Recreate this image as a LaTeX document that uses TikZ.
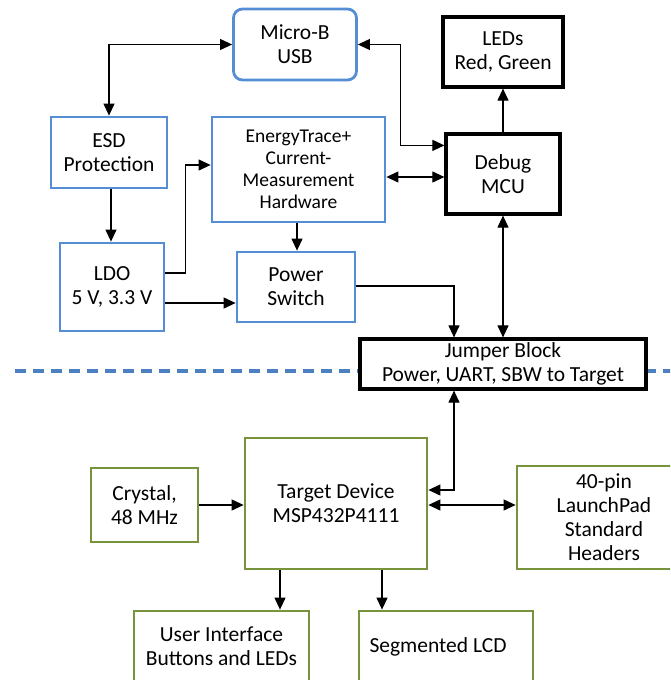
\documentclass[tikz,border=0pt]{standalone}
\usepackage{fontspec}
\setmainfont{Carlito}
\usepackage{tikz}
\usetikzlibrary{arrows.meta,calc}
\definecolor{boxblue}{RGB}{85,142,213}
\definecolor{boxgreen}{RGB}{119,147,60}
\tikzstyle{bluebox}=[draw=boxblue,line width=2.8pt,fill=white,align=center,inner sep=0pt,font=\fontsize{21.5}{24}\selectfont]
\tikzstyle{greenbox}=[draw=boxgreen,line width=2.8pt,fill=white,align=center,inner sep=0pt,font=\fontsize{21.5}{24}\selectfont]
\tikzstyle{blackbox}=[draw=black,line width=3.2pt,fill=white,align=center,inner sep=0pt,font=\fontsize{21.5}{24}\selectfont]
\tikzstyle{edge} = [draw,line width=1.1pt,->]
\tikzstyle{twoway} = [draw,line width=1.1pt,<->]
\tikzstyle{divider} = [draw=boxblue!90!black,line width=3.4pt,dash pattern=on 11pt off 7pt]

\begin{document}
\begin{tikzpicture}[x=1pt,y=-1pt,>={Triangle[length=12pt,width=11pt]}]
\useasboundingbox (0,0) rectangle (670,680);
\clip (0,0) rectangle (670,680);

% board divider
\coordinate (divl) at (15,371);
\coordinate (divr) at (672,371);
\path[divider] (divl) -- (divr);

% emulator side
\node[bluebox,rounded corners=9pt,minimum width=123pt,minimum height=71pt] (usb) at (295,44.5) {Micro-B\\USB};
\node[blackbox,minimum width=120pt,minimum height=70pt] (leds) at (503,52) {LEDs\\Red, Green};
\node[bluebox,minimum width=116pt,minimum height=71pt] (esd) at (109,152.5) {ESD\\Protection};
\node[bluebox,minimum width=173pt,minimum height=105pt,font=\fontsize{19.5}{22}\selectfont] (energy) at (298.5,169.5) {EnergyTrace+\\Current-\\Measurement\\Hardware};
\node[blackbox,minimum width=114pt,minimum height=80pt] (debug) at (503,174) {Debug\\MCU};
\node[bluebox,minimum width=104pt,minimum height=88pt] (ldo) at (112,287) {LDO\\5 V, 3.3 V};
\node[bluebox,minimum width=118pt,minimum height=70pt] (pswitch) at (296,287) {Power\\Switch};
\node[blackbox,minimum width=286pt,minimum height=50pt] (jumper) at (503,364) {Jumper Block\\Power, UART, SBW to Target};

% target side
\node[greenbox,minimum width=182pt,minimum height=131pt] (target) at (336,503.5) {Target Device\\MSP432P4111};
\node[greenbox,minimum width=107pt,minimum height=74pt] (crystal) at (144.5,505) {Crystal,\\48 MHz};
\node[greenbox,minimum width=174pt,minimum height=103pt] (headers) at (604,517.5) {40-pin\\LaunchPad\\Standard\\Headers};
\node[greenbox,minimum width=175pt,minimum height=71pt] (ui) at (221.5,646.5) {User Interface\\Buttons and LEDs};
\node[greenbox,minimum width=174pt,minimum height=71pt] (lcd) at (446,646.5) {\hspace*{-16pt}Segmented LCD};

% connections
\path[twoway] (esd) |- (usb);
\path[twoway] (usb.east) -- ++(43,0) |- ([yshift=-13pt]debug.north west);
\path[edge] (debug) -- (leds);
\path[edge] ([xshift=2pt]esd.south) -- ([xshift=2pt]esd.south |- ldo.north);
\path[edge] ([yshift=14pt]ldo.east) -- ++(20,0) |- ([yshift=4.5pt]energy.west);
\path[edge] ([yshift=-16pt]ldo.east) -- ([yshift=-16pt]ldo.east -| pswitch.west);
\path[edge] ([xshift=-1.5pt]energy.south) -- ([xshift=-1.5pt]energy.south |- pswitch.north);
\path[twoway] ([yshift=-7.5pt]energy.east) -- ([yshift=-7.5pt]energy.east -| debug.west);
\path[edge] ([yshift=1pt]pswitch.east) -| ([xshift=-49pt]jumper.north);
\path[twoway] (debug) -- (jumper);
\path[twoway] ([xshift=-49pt]jumper.south) |- ([yshift=13.5pt]target.east);
\path[edge] (crystal) -- (crystal -| target.west);
\path[twoway] ([yshift=-1.5pt]target.east) -- ([yshift=-1.5pt]target.east -| headers.west);

\foreach \dx/\dest in {-56/ui, 46/lcd}
    \path[edge] ([xshift=\dx pt]target.south) -- ([xshift=\dx pt]target.south |- \dest.north);

\end{tikzpicture}
\end{document}
